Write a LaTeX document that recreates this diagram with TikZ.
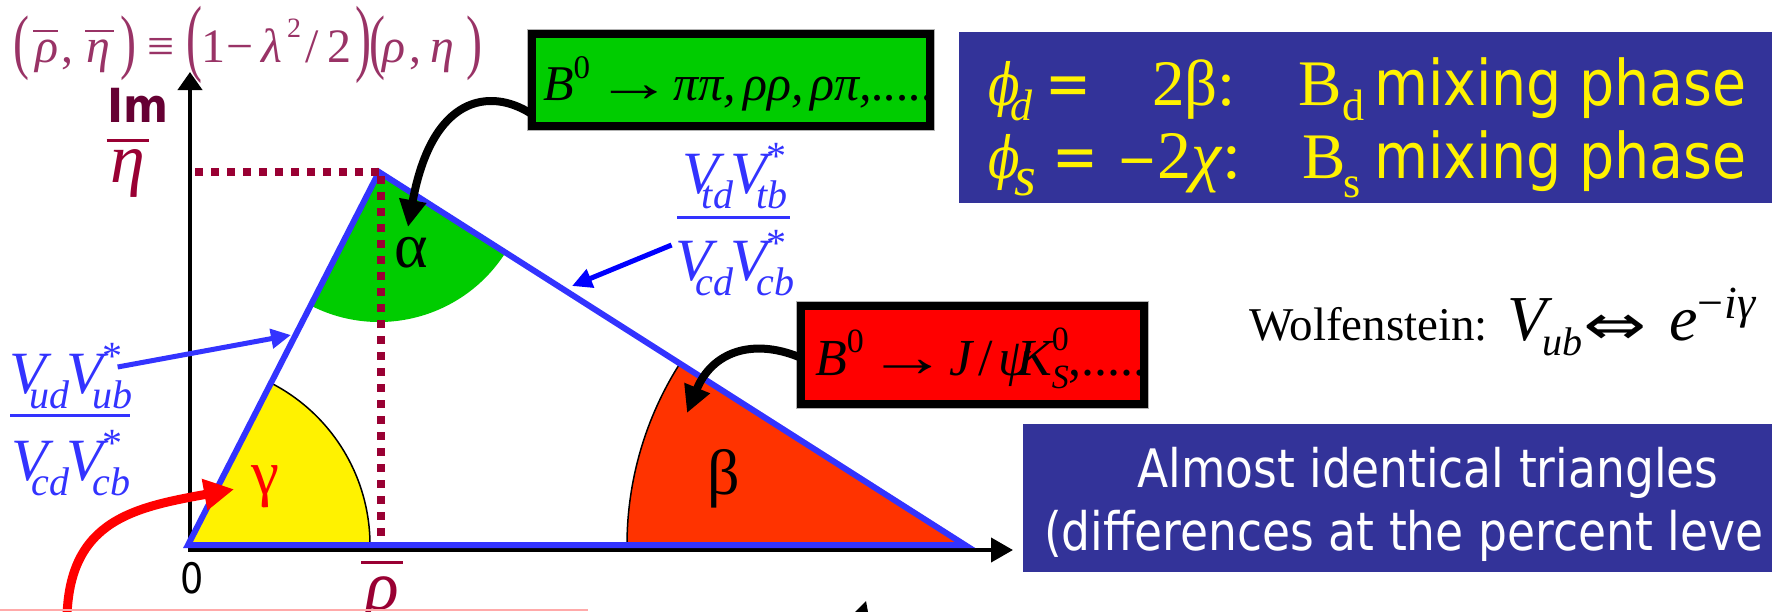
\documentclass[tikz,border=0pt]{standalone}
\usepackage{graphicx}
\usepackage{fontspec}
\usetikzlibrary{arrows.meta,calc}
\newfontfamily\tms{Liberation Serif}
\newfontfamily\tah{DejaVu Sans}
\newfontfamily\djs{DejaVu Serif}
\newcommand\fs[1]{\fontsize{#1}{#1}\selectfont}
\newcommand\tahx[2]{\scalebox{#1}[1]{\tah #2}}
\newcommand\Vpair[2]{{\itshape V}\kern-17pt\raisebox{-15pt}{\fs{40}\itshape #1}\kern-3pt{\itshape V}\rlap{\raisebox{24pt}{\fs{40}*}}\kern-10pt\raisebox{-15pt}{\fs{40}\itshape #2}}
\newcommand\bigpar[3]{\raisebox{#2}{\scalebox{1}[#1]{#3}}}
\newcommand\ovl[3]{\leavevmode\vbox{\hrule height #1\kern #2\hbox{#3}}}
\newcommand\tarrow{\raisebox{-1pt}{\scalebox{1.55}[1.1]{→}}}
\definecolor{triblue}{RGB}{51,51,255}
\definecolor{boxblue}{RGB}{51,51,153}
\definecolor{dotred}{RGB}{153,0,51}
\definecolor{formula}{RGB}{153,51,102}
\definecolor{imcol}{RGB}{102,0,51}
\definecolor{agreen}{RGB}{0,204,0}
\definecolor{bred}{RGB}{255,51,0}
\definecolor{pinkline}{RGB}{255,170,170}
\tikzset{
  axisline/.style={line width=4pt,line join=miter,{Triangle[length=18pt,width=24pt]}-{Triangle[length=22pt,width=24pt]}},
  triside/.style={draw=triblue,line width=6pt,line join=miter},
  dotline/.style={draw=dotred,line width=8pt,dash pattern=on 8pt off 8pt},
  blackarrow/.style={draw=black,line width=8pt,-{Triangle[length=27pt,width=26pt]}},
  bluearrow/.style={line width=5pt,-{Triangle[length=20pt,width=19pt]}},
  redarrow/.style={draw=red,line width=9pt,-{Triangle[length=30pt,width=30pt]}},
  arcline/.style={draw=black,line width=1.5pt},
  fracbar/.style={draw=triblue,line width=3pt},
  decaybox/.style={minimum width=398pt,minimum height=92pt,anchor=north west},
  boxborder/.style={draw=black,line width=8pt},
  infobox/.style={fill=boxblue},
  lbl/.style={anchor=base},
  lblw/.style={anchor=base west},
  fpart/.style={anchor=base west,text=formula,font=\tms\fs{48}}
}
\begin{document}
\begin{tikzpicture}[x=1pt,y=-1pt,every node/.style={inner sep=0pt,outer sep=0pt}]
\clip (0,0) rectangle (1772,611);
\fill[white] (0,0) rectangle (1772,611);
% coordinates
\coordinate (ytip) at (190,72);
\coordinate (orig) at (190,550);
\coordinate (xtip) at (1013,550);
\coordinate (A) at (188,545);
\coordinate (C) at (379,172);
\coordinate (B) at (965,545);
% axes
\draw[axisline] (ytip) -- (orig) -- (xtip);
% angle wedges
\fill[yellow] (A) -- ++(0:182) arc[start angle=0,end angle=-62.9,radius=182] -- cycle;
\draw[arcline] (A) ++(0:182) arc[start angle=0,end angle=-62.9,radius=182];
\fill[agreen] (C) -- ++(117.1:150) arc[start angle=117.1,end angle=32.5,radius=150] -- cycle;
\fill[bred] (B) -- ++(180:338) arc[start angle=180,end angle=212.5,radius=338] -- cycle;
\draw[arcline] (B) ++(180:338) arc[start angle=180,end angle=212.5,radius=338];
% triangle
\draw[triside] (A) -- (C) -- (B) -- cycle;
% dotted projections
\draw[dotline] (195,172) -- (C);
\draw[dotline] (381,176) -- (381,542);
% top formula
\node[fpart] (f1) at (13,62) {\bigpar{1.49}{-3.6pt}{(}};
\node[fpart] (f2) at (33,62) {\ovl{2.5pt}{7pt}{\kern2pt\itshape ρ}};
\node[fpart] (f3) at (61,62) {,};
\node[fpart] (f4) at (85,62) {\ovl{2.5pt}{7pt}{\kern1pt\itshape η\kern4pt}};
\node[fpart] (f5) at (120,62) {\bigpar{1.49}{-3.6pt}{)}};
\node[fpart] (f6) at (147,62) {≡};
\node[fpart] (f7) at (186,62) {\bigpar{1.78}{-3.2pt}{(}};
\node[fpart] (f8) at (201,62) {1};
\node[fpart] (f9) at (226,62) {−};
\node[fpart] (f10) at (261,62) {\itshape λ};
\node[fpart] (f11) at (287,37) {\fs{28}2};
\node[fpart] (f12) at (305,62) {/};
\node[fpart] (f13) at (327,62) {2};
\node[fpart] (f14) at (355,62) {\bigpar{1.78}{-3.2pt}{)}};
\node[fpart] (f15) at (369,62) {\bigpar{1.49}{-3.6pt}{(}};
\node[fpart] (f16) at (382,62) {\itshape ρ};
\node[fpart] (f17) at (409,62) {,};
\node[fpart] (f18) at (430,62) {\itshape η};
\node[fpart] (f19) at (466,62) {\bigpar{1.49}{-3.6pt}{)}};
% axis labels
\node[lblw,text=imcol] (imlab) at (107,122) {\fs{47}\scalebox{0.92}[1]{\tah\bfseries Im}};
\node[lbl,text=dotred] (etalab) at (128,182) {\tms\fs{70}\ovl{3pt}{7pt}{\kern4pt\itshape η\kern4pt}};
\node[lbl,text=dotred] (rholab) at (382,609) {\tms\fs{70}\ovl{3pt}{12pt}{\kern4pt\itshape ρ\kern4pt}};
\node[lbl] (zerolab) at (192,593) {\fs{42}\tahx{0.87}{0}};
% angle labels
\node[lbl] (alp) at (411,267) {\tms\fs{64}α};
\node[lbl,text=red] (gam) at (265,494) {\tms\fs{63}γ};
\node[lbl] (bet) at (724,494) {\tms\fs{64}β};
% side fractions
\node[lbl,text=triblue] (vtdn) at (735,193) {\tms\fs{60}\Vpair{td}{tb}};
\node[lbl,text=triblue] (vtdd) at (735,280) {\tms\fs{60}\Vpair{cd}{cb}};
\draw[fracbar] (677,217) -- (790,217);
\node[lbl,text=triblue] (vudn) at (71,393) {\tms\fs{60}\Vpair{ud}{ub}};
\node[lbl,text=triblue] (vudd) at (71,480) {\tms\fs{60}\Vpair{cd}{cb}};
\draw[fracbar] (10,415) -- (130,415);
% green decay box
\node[decaybox,fill=agreen] (gbox) at (532,34) {};
\node[lblw] (gtext) at (543,100) {\tms\fs{50}{\itshape B}\raisebox{22pt}{\fs{33}0}\kern5pt\tarrow\kern1pt{\itshape ππ,\kern7pt ρρ,\kern7pt ρπ,.....}};
\draw[boxborder] (gbox.north west) rectangle (gbox.south east);
\draw[gray!60,line width=1pt] ($(gbox.north west)+(-4.5,-4.5)$) rectangle ($(gbox.south east)+(4.5,4.5)$);
% red decay box
\node[decaybox,minimum width=343pt,minimum height=98pt,fill=red] (rbox) at (801,306) {};
\node[lblw] (rtext) at (815,375) {\tms\fs{52}{\itshape B}\raisebox{23pt}{\fs{34}0}\kern4pt\tarrow\kern1pt{\itshape J}\kern6pt/\kern6pt{\itshape ψ\kern-14pt K}\rlap{\raisebox{25pt}{\fs{34}0}}\raisebox{-13pt}{\fs{34}\itshape S},.....};
\draw[boxborder] (rbox.north west) rectangle (rbox.south east);
\draw[gray!60,line width=1pt] ($(rbox.north west)+(-4.5,-4.5)$) rectangle ($(rbox.south east)+(4.5,4.5)$);
% phase box
\node[infobox,minimum width=813pt,minimum height=171pt,anchor=north west] (phibox) at (959,32) {};
\begin{scope}[every node/.append style={text=yellow}]
\node[lblw] (p1phi) at (988,105) {\scalebox{0.8}[1]{\djs\itshape\fs{58}ϕ}};
\node[lblw] (p1d) at (1010,120) {\tms\itshape\fs{44}d};
\node[lblw] (p1eq) at (1045,105) {\fs{63}\tahx{0.87}{=}};
\node[lblw] (p1b) at (1152,105) {\tms\fs{65}2β:};
\node[lblw] (p1B) at (1298,105) {\tms\fs{65}B};
\node[lblw] (p1Bd) at (1342,120) {\tms\fs{44}d};
\node[lblw] (p1mix) at (1374,105) {\fs{63}\tahx{0.88}{mixing phase}};
\node[lblw] (p2phi) at (988,178) {\scalebox{0.8}[1]{\djs\itshape\fs{58}ϕ}};
\node[lblw] (p2s) at (1014,195) {\tms\itshape\fs{56}s};
\node[lblw] (p2eq) at (1052,178) {\fs{63}\tahx{0.87}{=}};
\node[lblw] (p2dash) at (1118,178) {\fs{63}\tahx{1.2}{–}};
\node[lblw] (p2x) at (1157,178) {\tms\fs{68}2{\itshape χ}\kern2pt:};
\node[lblw] (p2B) at (1302,178) {\tms\fs{65}B};
\node[lblw] (p2Bs) at (1343,197) {\tms\fs{44}s};
\node[lblw] (p2mix) at (1374,178) {\fs{63}\tahx{0.88}{mixing phase}};
\end{scope}
% Wolfenstein
\node[lblw] (wolf) at (1249,340) {\tms\fs{47}Wolfenstein: \kern4pt\fs{64}{\itshape V}\kern-4pt\raisebox{-15pt}{\fs{40}\itshape ub}\kern1pt\raisebox{-4pt}{\scalebox{1.35}[1]{\tah\fs{56}⇔}}\kern22pt{\itshape e}\raisebox{22pt}{\fs{46}−\kern1pt{\itshape iγ}}};
% almost identical box
\node[infobox,minimum width=749pt,minimum height=148pt,anchor=north west] (almbox) at (1023,424) {};
\node[lbl,text=white] (al1) at (1428,487) {\fs{53}\tahx{0.86}{Almost identical triangles}};
\node[lblw,text=white] (al2) at (1044,550) {\fs{53}\tahx{0.86}{(differences at the percent leve}};
% connectors
\coordinate (atip) at (408,227);
\coordinate (btip) at (687,413);
\coordinate (vtip) at (572,286);
\coordinate (utip) at (291,335);
\coordinate (rstart) at (67,630);
\draw[blackarrow] ($(gbox.west)+(-2,33)$) .. controls (490,88) and (432,95) .. (atip);
\draw[blackarrow] ($(rbox.west)+(-2,2)$) .. controls (752,338) and (712,352) .. (btip);
\draw[bluearrow,draw=blue] ($(vtdd.base west)+(-4,-35)$) -- (vtip);
\draw[bluearrow,draw=triblue] ($(vudn.base east)+(-15,-26)$) -- (utip);
\draw[redarrow] (rstart) .. controls (64,522) and (130,508) .. ($(gam.west)+(-17,3)$);
% bottom edge fragments
\draw[pinkline,line width=2pt] (0,610) -- (588,610);
\fill[black] (855,612) -- (866,601) -- (868,612) -- cycle;
\end{tikzpicture}
\end{document}
